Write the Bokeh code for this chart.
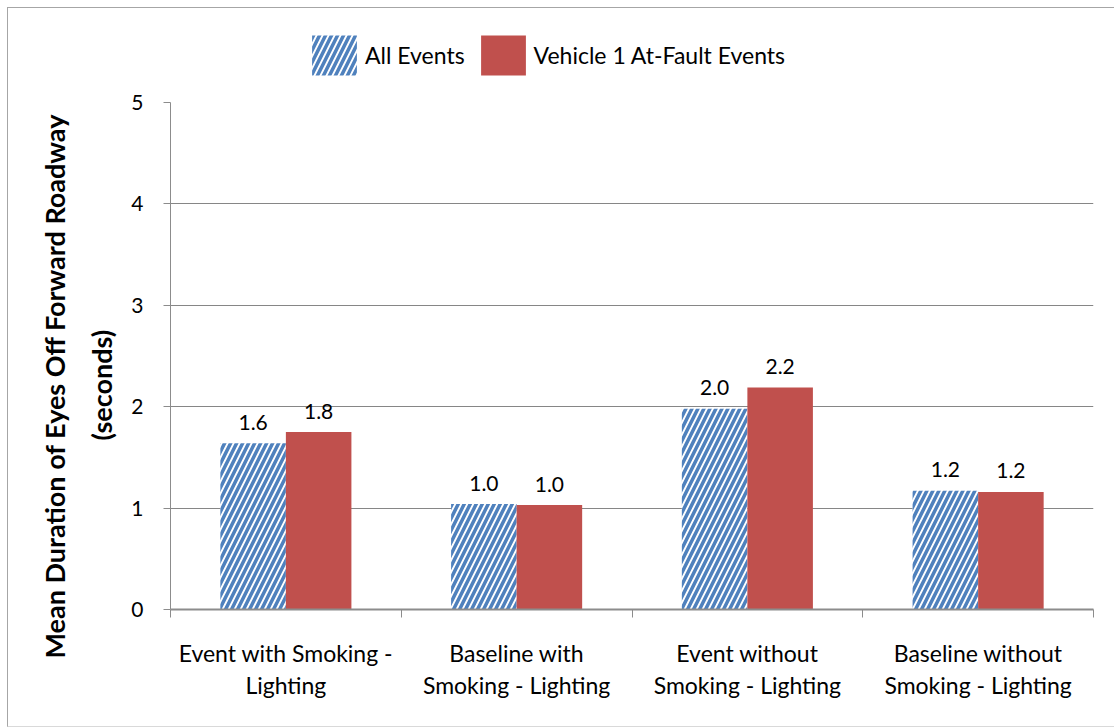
import numpy as np
from bokeh.plotting import figure
from bokeh.layouts import column
from bokeh.models import ColumnDataSource, Range1d, FixedTicker, Legend, LegendItem, Title
from bokeh.core.properties import value
from bokeh.embed import file_html
from bokeh.resources import INLINE

# ---- data ----
categories = [
    "Event with Smoking -\nLighting",
    "Baseline with\nSmoking - Lighting",
    "Event without\nSmoking - Lighting",
    "Baseline without\nSmoking - Lighting",
]
all_events = [1.64, 1.04, 1.98, 1.17]
at_fault = [1.75, 1.03, 2.19, 1.16]
series_names = ["All Events", "Vehicle 1 At-Fault Events"]
y_ticks = [0, 1, 2, 3, 4, 5]
y_title = ["Mean Duration of Eyes Off Forward Roadway", "(seconds)"]

FONT = "Lato"
BLUE = "#4F81BD"
RED = "#C0504D"
GREY = "#8C8C8C"

hatch_style = dict(fill_color="white", line_color=None, hatch_pattern="/",
                   hatch_color=BLUE, hatch_weight=3.5, hatch_scale=12)
red_style = dict(fill_color=RED, line_color=None)

idx = np.arange(len(categories))
bw = 0.284
src_all = ColumnDataSource(dict(x=idx + 0.5 - bw / 2, top=all_events,
                                label=[f"{v:.1f}" for v in all_events]))
src_fault = ColumnDataSource(dict(x=idx + 0.5 + bw / 2, top=at_fault,
                                  label=[f"{v:.1f}" for v in at_fault]))

W = 1106
TOP = 80

# ---- legend strip (its bars lie outside its y range, only the legend shows) ----
lg = figure(width=W, height=TOP, x_range=Range1d(0, len(categories)),
            y_range=Range1d(10, 11),
            output_backend="svg", toolbar_location=None, min_border=0)
lg.axis.visible = False
lg.grid.visible = False
lg.outline_line_color = None
l1 = lg.vbar(x="x", top="top", width=bw, source=src_all, **hatch_style)
l2 = lg.vbar(x="x", top="top", width=bw, source=src_fault, **red_style)
legend = Legend(items=[LegendItem(label=series_names[0], renderers=[l1]),
                       LegendItem(label=series_names[1], renderers=[l2])],
                location=(136, 8), orientation="horizontal",
                glyph_width=56, glyph_height=50, label_standoff=3, spacing=10,
                padding=0, margin=0, border_line_color=None,
                background_fill_alpha=0, label_text_font=FONT,
                label_text_color="black", label_text_font_size="23px")
lg.add_layout(legend, "center")

# ---- main chart ----
p = figure(width=W, height=718 - TOP, x_range=Range1d(0, len(categories)),
           y_range=Range1d(y_ticks[0], y_ticks[-1]),
           output_backend="svg", toolbar_location=None,
           min_border_left=162, min_border_right=21,
           min_border_top=14, min_border_bottom=117)
p.outline_line_color = None

p.vbar(x="x", top="top", width=bw, source=src_all, **hatch_style)
p.vbar(x="x", top="top", width=bw, source=src_fault, **red_style)

for s in (src_all, src_fault):
    p.text(x="x", y="top", text="label", source=s, text_align="center",
           text_baseline="middle", y_offset=-21, text_font=value(FONT),
           text_font_size="21px", text_color="black")

# grid
p.xgrid.grid_line_color = None
p.ygrid.grid_line_color = "#868686"
p.ygrid.grid_line_width = 1
p.ygrid.ticker = FixedTicker(ticks=y_ticks)

# y axis
p.yaxis.ticker = FixedTicker(ticks=y_ticks)
p.yaxis.axis_line_color = GREY
p.yaxis.major_tick_line_color = GREY
p.yaxis.major_tick_out = 7
p.yaxis.major_tick_in = 0
p.yaxis.minor_tick_line_color = None
p.yaxis.major_label_text_font = FONT
p.yaxis.major_label_text_font_size = "21px"
p.yaxis.major_label_text_color = "black"
p.yaxis.major_label_standoff = 20

# y title: two left-side titles (inner line first), placed like the reference
title_style = dict(align="left", text_font=FONT, text_font_size="27px",
                   text_font_style="bold", text_color="black")
p.add_layout(Title(text=y_title[1], offset=169, standoff=22, **title_style), "left")
p.add_layout(Title(text=y_title[0], offset=-49, standoff=2, **title_style), "left")

# x axis
centers = list(idx + 0.5)
p.xaxis.ticker = FixedTicker(ticks=centers, minor_ticks=list(range(len(categories) + 1)))
p.xaxis.major_label_overrides = {float(c): lab for c, lab in zip(centers, categories)}
p.xaxis.axis_line_color = GREY
p.xaxis.axis_line_width = 2
p.xaxis.major_tick_line_color = None
p.xaxis.major_tick_out = 0
p.xaxis.major_tick_in = 0
p.xaxis.minor_tick_line_color = GREY
p.xaxis.minor_tick_out = 8
p.xaxis.minor_tick_in = 0
p.xaxis.major_label_text_font = FONT
p.xaxis.major_label_text_font_size = "23px"
p.xaxis.major_label_text_color = "black"
p.xaxis.major_label_text_line_height = 1.15
p.xaxis.major_label_standoff = 21

layout = column(lg, p, spacing=0,
                styles={"margin-left": "7px", "margin-top": "7px",
                        "border-left": "1px solid #A6A6A6",
                        "border-top": "1px solid #A6A6A6",
                        "border-bottom": "1px solid #D9D9D9"})

open("out.html", "w").write(file_html(layout, INLINE))
